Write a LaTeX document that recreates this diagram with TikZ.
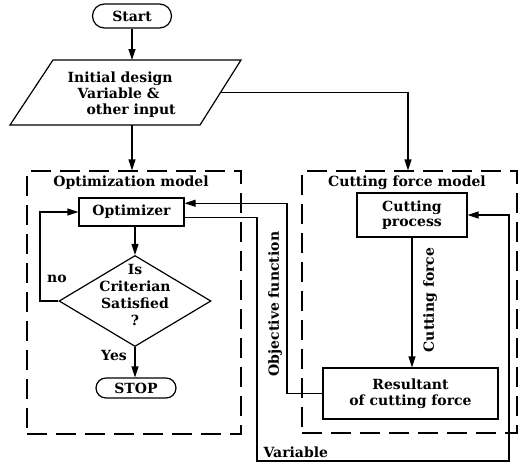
\documentclass[tikz,border=0pt]{standalone}
\usepackage{fontspec}
\setmainfont{DejaVu Serif}
\usetikzlibrary{arrows.meta,shapes.geometric,shapes.misc,calc}

\begin{document}
\begin{tikzpicture}[x=1pt,y=-1pt,line width=1.2pt,
  >={Triangle[length=11pt,width=7pt]},
  font=\bfseries\fontsize{14}{16}\selectfont,
  term/.style={draw,rounded rectangle,inner sep=0pt},
  proc/.style={draw,rectangle,inner sep=0pt,align=center},
  frame/.style={draw,rectangle,dash pattern=on 20pt off 9pt,inner sep=0pt},
  lbl/.style={inner sep=1pt}]
\useasboundingbox (0,0) rectangle (524,464);

% start and input
\node[term,minimum width=79pt,minimum height=24pt] (start) at (132,16) {Start};
\coordinate (inptl) at (53,60);
\coordinate (inptr) at (241,60);
\coordinate (inpbr) at (200,125);
\coordinate (inpbl) at (10,125);
\coordinate (inpout) at ($(inptr)!0.5!(inpbr)$);
\draw (inptl) -- (inptr) -- (inpbr) -- (inpbl) -- cycle;
\node[lbl,align=left,anchor=west] (inptxt) at (66,95)
  {Initial design\\\hspace{10pt}Variable \&\\\hspace{19pt}other input};

% the two model frames
\node[frame,minimum width=214pt,minimum height=263pt] (optframe) at (134,302.5) {};
\node[frame,minimum width=215pt,minimum height=262pt] (cutframe) at (409.5,302) {};
\node[lbl] (optlbl) at (131,183) {Optimization model};
\node[lbl] (cutlbl) at (407,183) {Cutting force model};

% optimization model
\node[proc,minimum width=105pt,minimum height=28pt] (opt) at (131.5,212) {Optimizer};
\node[draw,diamond,minimum width=152pt,minimum height=91pt,inner sep=0pt] (dec) at (135,301) {};
\node[lbl,align=center,font=\bfseries\fontsize{14}{17}\selectfont] (dectxt) at (135,295) {Is\\Criterian\\Satisfied\\?};
\node[term,minimum width=80pt,minimum height=20pt] (stop) at (136,388) {STOP};

% cutting force model
\node[proc,minimum width=110pt,minimum height=44pt,font=\bfseries\fontsize{14}{15}\selectfont] (cp) at (412,215) {Cutting\\process};
\node[proc,minimum width=175pt,minimum height=51pt] (res) at (410.5,393.5) {Resultant\\of cutting force};

% routing points
\coordinate (oin) at ($(opt.north east)!0.2!(opt.south east)$);
\coordinate (oout) at ($(opt.north east)!0.68!(opt.south east)$);
\coordinate (objx) at (287,0);
\coordinate (varl) at (257,0);
\coordinate (varr) at (509,0);
\coordinate (varb) at (0,461);
\coordinate (loopx) at (40,0);
\coordinate (cutin) at (408,0);

% connectors
\draw[->] (start.south) -- (start |- inptl);
\draw[->] (start |- inpbl) -- (start |- optframe.north);
\draw[->] (inpout) -- (inpout -| cutin) -- (cutin |- cutframe.north);
\draw[->] (dec.north |- opt.south) -- (dec.north);
\draw[->] (dec.west) -- (dec.west -| loopx) |- (opt.west);
\node[lbl] (nolbl) at (57,279) {no};
\draw[->] (dec.south) -- (dec.south |- stop.north);
\node[lbl] (yeslbl) at (114,355) {Yes};
\draw[->] (cp.south) -- (cp.south |- res.north);
\node[lbl,rotate=90] (cflbl) at (430,300) {Cutting force};
\draw[->] (res.west) -- (res.west -| objx) -- (objx |- oin) -- (oin);
\node[lbl,rotate=90] (oflbl) at (275,304) {Objective function};
\draw[->] (oout) -- (oout -| varl) -- (varl |- varb) -- (varr |- varb) -- (varr |- cp.east) -- (cp.east);
\node[lbl,anchor=west] (varlbl) at (262,452) {Variable};
\end{tikzpicture}
\end{document}
